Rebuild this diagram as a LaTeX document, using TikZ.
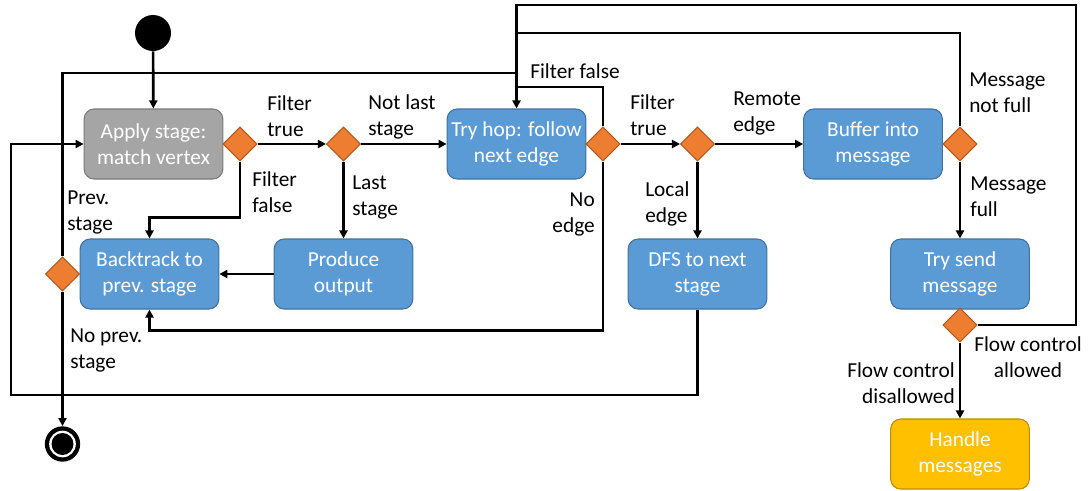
\documentclass[tikz,border=0pt]{standalone}
\usepackage{fontspec}
\setmainfont{Carlito}
\usetikzlibrary{arrows.meta,shapes.geometric}
\definecolor{actblue}{HTML}{5B9BD5}
\definecolor{actblueedge}{HTML}{41719C}
\definecolor{actgrey}{HTML}{A5A5A5}
\definecolor{actgreyedge}{HTML}{7A7A7A}
\definecolor{decorange}{HTML}{ED7D31}
\definecolor{decorangeedge}{HTML}{AE5A21}
\definecolor{actyellow}{HTML}{FFC000}
\definecolor{actyellowedge}{HTML}{BC8C00}
\begin{document}
\begin{tikzpicture}[x=0.75pt,y=-0.75pt,
  every node/.style={font=\fontsize{16}{19.5}\selectfont},
  actbox/.style={draw=actblueedge, fill=actblue, line width=0.8pt,
    rounded corners=7.5pt, minimum width=104pt, minimum height=52.5pt,
    inner sep=0pt, align=center, text=white},
  greybox/.style={actbox, draw=actgreyedge, fill=actgrey},
  yellowbox/.style={actbox, draw=actyellowedge, fill=actyellow},
  decision/.style={diamond, draw=decorangeedge, fill=decorange, line width=0.8pt,
    minimum width=25.5pt, minimum height=25.5pt, inner sep=0pt},
  flow/.style={line width=2pt, -{Triangle[length=6pt,width=6pt]}},
  plain/.style={line width=2pt},
  lbl/.style={inner sep=0pt, align=left}
]
\useasboundingbox (0,0) rectangle (1092,490);

% activities
\node[greybox]   (apply)     at (153.5,144) {Apply stage:\\match vertex};
\node[actbox]    (tryhop)    at (516.5,144) {Try hop: follow\\next edge};
\node[actbox]    (buffer)    at (873,144)   {Buffer into\\message};
\node[actbox]    (backtrack) at (149.5,274) {Backtrack to\\prev. stage};
\node[actbox]    (produce)   at (343.5,274) {Produce\\output};
\node[actbox]    (dfs)       at (697.5,274) {DFS to next\\stage};
\node[actbox]    (trysend)   at (960,274)   {Try send\\message};
\node[yellowbox] (handle)    at (960,454)   {Handle\\messages};

% decisions
\node[decision] (d1) at (240,144) {};
\node[decision] (d2) at (343.5,144) {};
\node[decision] (d3) at (603,144) {};
\node[decision] (d4) at (697.5,144) {};
\node[decision] (d5) at (960,144) {};
\node[decision] (d6) at (960,325) {};
\node[decision] (d7) at (62.5,274) {};

% initial and final states
\node[circle, fill=black, minimum size=27pt, inner sep=0pt] (start) at (153,33) {};
\node[circle, fill=black, minimum size=26.5pt, inner sep=0pt] (stop) at (62.5,444) {};
\node[circle, fill=white, minimum size=20pt, inner sep=0pt] (stopring) at (62.5,444) {};
\node[circle, fill=black, minimum size=16.5pt, inner sep=0pt] (stopdot) at (62.5,444) {};

% junction points of the loops back into "Try hop"
\coordinate (topright) at (1076,5);
\coordinate (jmsg)  at (516.5,33);
\coordinate (jprev) at (516.5,73);
\coordinate (jfilt) at (516.5,87);
\coordinate (bottomleft) at (11,395);

% main flow
\draw[flow] (start) -- (apply);
\draw[flow] (d1) -- (d2);
\draw[flow] (d2) -- (tryhop);
\draw[flow] (d3) -- (d4);
\draw[flow] (d4) -- (buffer);
\draw[flow] (d1.south) -- ++(0,56) -| (backtrack.north);
\draw[flow] (d2.south) -- (produce.north);
\draw[flow] (produce.west) -- (backtrack.east);
\draw[flow] (d3.south) -- ++(0,169) -| (backtrack.south);
\draw[flow] (d4.south) -- (dfs.north);
\draw[flow] (dfs.south) |- (bottomleft) |- (apply.west);
\draw[flow] (d5.south) -- (trysend.north);
\draw[flow] (d6.south) -- (handle.north);
\draw[flow] (d6.east) -| (topright) -| (tryhop.north);
\draw[flow] (d7.south) -- (stop.north);
\draw[plain] (d5.north) |- (jmsg);
\draw[plain] (d3.north) |- (jfilt);
\draw[plain] (d7.north) |- (jprev);

% guard labels
\node[lbl, anchor=west] (lft)  at (267,116) {Filter\\true};
\node[lbl, anchor=west] (lff)  at (252,192) {Filter\\false};
\node[lbl, anchor=west] (lps)  at (67,212)  {Prev.\\stage};
\node[lbl, anchor=west] (lnl)  at (368,117) {Not last\\stage};
\node[lbl, anchor=west] (lls)  at (352,197) {Last\\stage};
\node[lbl, anchor=west] (lff2) at (530,71)  {Filter false};
\node[lbl, anchor=west] (lft2) at (630,115) {Filter\\true};
\node[lbl, anchor=east, align=right] (lne) at (595,214) {No\\edge};
\node[lbl, anchor=west] (lle)  at (645,204) {Local\\edge};
\node[lbl, anchor=west] (lre)  at (733,113) {Remote\\edge};
\node[lbl, anchor=west] (lmnf) at (969,93)  {Message\\not full};
\node[lbl, anchor=west] (lmf)  at (970,197) {Message\\full};
\node[lbl, anchor=west] (lnp)  at (70,350)  {No prev.\\stage};
\node[lbl, align=center] (lfa) at (1028,357) {Flow control\\allowed};
\node[lbl, anchor=east, align=right] (lfd) at (955,383) {Flow control\\disallowed};
\end{tikzpicture}
\end{document}
